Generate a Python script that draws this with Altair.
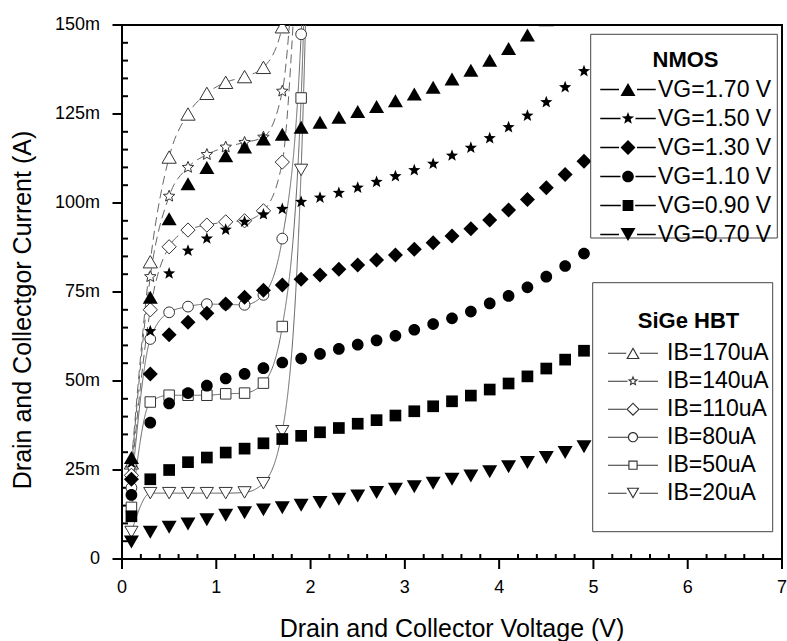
import math
import altair as alt
import pandas as pd

FONT = "Liberation Sans"

# ---------------- data ----------------
# NMOS drain sweep (V) and drain current (mA) for each gate voltage
vd = [0.1, 0.3, 0.5, 0.7, 0.9, 1.1, 1.3, 1.5, 1.7, 1.9, 2.1, 2.3, 2.5,
      2.7, 2.9, 3.1, 3.3, 3.5, 3.7, 3.9, 4.1, 4.3, 4.5, 4.7, 4.9]
nmos_names = ["VG=1.70 V", "VG=1.50 V", "VG=1.30 V", "VG=1.10 V", "VG=0.90 V", "VG=0.70 V"]
id_vg170 = [28.5, 73.5, 95.6, 105.4, 110.0, 113.3, 115.7, 118.0, 119.3, 121.3, 122.7, 124.1, 125.7,
            127.1, 128.7, 130.6, 132.5, 134.8, 137.3, 140.1, 143.4, 147.2, 151.5, 156.0, 161.0]
id_vg150 = [27.0, 64.0, 80.2, 86.6, 90.0, 92.5, 94.7, 96.8, 98.3, 100.3, 101.5, 102.8, 104.3,
            105.9, 107.5, 109.2, 111.0, 113.3, 115.5, 118.2, 121.3, 124.5, 128.3, 132.5, 137.0]
id_vg130 = [22.4, 52.0, 63.0, 66.5, 69.0, 71.6, 73.5, 75.5, 77.0, 78.6, 79.8, 81.4, 82.6,
            84.0, 85.4, 87.0, 88.8, 90.7, 92.8, 95.2, 98.0, 101.0, 104.3, 108.0, 111.7]
id_vg110 = [18.0, 38.3, 43.7, 46.6, 48.7, 50.7, 52.0, 53.6, 55.2, 56.3, 57.6, 59.0, 60.2,
            61.4, 62.7, 64.4, 66.0, 67.6, 69.5, 71.8, 73.9, 76.3, 79.3, 82.3, 85.8]
id_vg090 = [12.0, 22.4, 25.0, 27.2, 28.5, 29.9, 31.0, 32.5, 33.7, 34.6, 35.6, 36.8, 38.0,
            39.0, 40.3, 41.5, 42.9, 44.3, 45.9, 47.6, 49.3, 51.3, 53.5, 56.0, 58.5]
id_vg070 = [4.8, 7.5, 8.9, 9.8, 11.0, 12.3, 13.0, 13.8, 14.4, 15.1, 15.9, 16.8, 17.7,
            18.7, 19.6, 20.3, 21.3, 22.4, 23.3, 24.5, 25.9, 27.1, 28.5, 29.9, 31.5]

# SiGe HBT collector sweep (V) and collector current (mA) for each base current
vce = [0.1, 0.3, 0.5, 0.7, 0.9, 1.1, 1.3, 1.5, 1.7, 1.9, 2.1]
hbt_names = ["IB=170uA", "IB=140uA", "IB=110uA", "IB=80uA", "IB=50uA", "IB=20uA"]
ic_ib170 = [27.0, 83.5, 112.9, 125.0, 130.8, 133.9, 135.5, 138.1, 149.5, 210.0, 300.0]
ic_ib140 = [25.5, 79.3, 101.9, 110.0, 113.6, 115.7, 117.0, 118.5, 131.4, 200.0, 290.0]
ic_ib110 = [23.5, 70.0, 87.7, 92.4, 93.8, 94.7, 95.0, 97.8, 111.5, 190.0, 280.0]
ic_ib80 = [20.0, 61.8, 69.3, 70.9, 71.6, 71.5, 71.4, 74.2, 90.0, 147.4, 400.0]
ic_ib50 = [14.5, 44.1, 46.0, 46.0, 46.0, 46.4, 46.6, 49.4, 65.3, 129.5, 400.0]
ic_ib20 = [7.6, 18.5, 18.5, 18.5, 18.5, 18.5, 18.7, 21.3, 35.9, 109.3, 350.0]

# axis ticks and their labels
x_ticks = [0, 1, 2, 3, 4, 5, 6, 7]
x_labels = ["0", "1", "2", "3", "4", "5", "6", "7"]
x_minor = [0.2, 0.4, 0.6, 0.8, 1.2, 1.4, 1.6, 1.8, 2.2, 2.4, 2.6, 2.8, 3.2, 3.4, 3.6, 3.8,
           4.2, 4.4, 4.6, 4.8, 5.2, 5.4, 5.6, 5.8, 6.2, 6.4, 6.6, 6.8]
y_ticks = [0, 25, 50, 75, 100, 125, 150]
y_labels = ["0", "25m", "50m", "75m", "100m", "125m", "150m"]
y_minor = [5, 10, 15, 20, 30, 35, 40, 45, 55, 60, 65, 70, 80, 85, 90, 95,
           105, 110, 115, 120, 130, 135, 140, 145]
x_title = "Drain and Collector Voltage (V)"
y_title = "Drain and Collectgor Current (A)"

nmos = pd.concat([
    pd.DataFrame({"v": vd, "i": vals, "series": name})
    for name, vals in zip(nmos_names, [id_vg170, id_vg150, id_vg130, id_vg110, id_vg090, id_vg070])
])
hbt = pd.concat([
    pd.DataFrame({"v": vce, "i": vals, "series": name})
    for name, vals in zip(hbt_names, [ic_ib170, ic_ib140, ic_ib110, ic_ib80, ic_ib50, ic_ib20])
])

# tick tables (position plus tick kind)
x_major_df = pd.DataFrame({"v": x_ticks, "label": x_labels})
x_minor_df = pd.DataFrame({"v": x_minor, "kind": ["minor"] * len(x_minor)})
y_major_df = pd.DataFrame({"i": y_ticks, "label": y_labels})
y_minor_df = pd.DataFrame({"i": y_minor, "kind": ["minor"] * len(y_minor)})

# ---------------- symbol paths (unit box, scaled by sqrt(size)/2) ----------------
def f(v):
    return f"{v:.3f}"

def poly(pts):
    return "M" + "L".join(f"{f(px)},{f(py)}" for px, py in pts) + "Z"

def tri_up_pts(h):
    return [(0, -0.866 * h), (h, 0.866 * h), (-h, 0.866 * h)]

def tri_down_pts(h):
    return [(0, 0.866 * h), (h, -0.866 * h), (-h, -0.866 * h)]

def diamond_pts(h):
    return [(-h, 0), (0, -h), (h, 0), (0, h)]

def square_pts(h):
    return [(-h, -h), (h, -h), (h, h), (-h, h)]

def star_pts(r, inner=0.42):
    pts = []
    for k in range(10):
        ang = math.radians(-90 + 36 * k)
        rad = r if k % 2 == 0 else r * inner
        pts.append((rad * math.cos(ang), rad * math.sin(ang)))
    return pts

def circle(r, sweep=1):
    return (f"M{f(r)},0A{f(r)},{f(r)},0,1,{sweep},{f(-r)},0"
            f"A{f(r)},{f(r)},0,1,{sweep},{f(r)},0Z")

def ring(pts, cx, cy, s):
    inner = [(cx + s * (px - cx), cy + s * (py - cy)) for px, py in pts][::-1]
    return poly(pts) + poly(inner)

def leads(a, b, w):
    return (f"M{f(-b)},{f(-w)}L{f(-a)},{f(-w)}L{f(-a)},{f(w)}L{f(-b)},{f(w)}Z"
            f"M{f(a)},{f(-w)}L{f(b)},{f(-w)}L{f(b)},{f(w)}L{f(a)},{f(w)}Z")

def star_edge_dist(r, inner):
    ri = r * inner
    p2x, p2y = 0.5878 * ri, -0.809 * ri
    return 0.5878 * r * ri / math.hypot(p2x, p2y + r)

# plot symbols
nmos_paths = [poly(tri_up_pts(1.0)), poly(star_pts(0.86)), poly(diamond_pts(1.0)),
              circle(0.78), poly(square_pts(0.78)), poly(tri_down_pts(1.0))]
hbt_paths = [poly(tri_up_pts(0.95)), poly(star_pts(0.8, 0.45)), poly(diamond_pts(0.95)),
             circle(0.72), poly(square_pts(0.7)), poly(tri_down_pts(0.88))]

# legend symbols: marker plus short lead lines on both sides
T = 0.15  # outline thickness of open legend markers, unit-box coords
nmos_key_paths = [
    poly(tri_up_pts(1.0)) + leads(1.2, 3.7, 0.1),
    poly(star_pts(0.86)) + leads(1.0, 3.7, 0.1),
    poly(diamond_pts(1.0)) + leads(1.2, 3.7, 0.1),
    circle(0.78) + leads(1.0, 3.7, 0.1),
    poly(square_pts(0.72)) + leads(0.95, 3.7, 0.1),
    poly(tri_down_pts(1.0)) + leads(1.2, 3.7, 0.1),
]
hbt_key_paths = [
    ring(tri_up_pts(0.9), 0, 0.2887 * 0.9, 1 - T / (0.577 * 0.9)) + leads(0.9, 3.33, 0.07),
    ring(star_pts(0.75, 0.45), 0, 0, 1 - T / star_edge_dist(0.75, 0.45)) + leads(0.72, 3.33, 0.07),
    ring(diamond_pts(0.9), 0, 0, 1 - T / (0.9 / math.sqrt(2))) + leads(0.9, 3.33, 0.07),
    circle(0.68) + circle(0.68 - T, 0) + leads(0.68, 3.33, 0.07),
    ring(square_pts(0.62), 0, 0, 1 - T / 0.62) + leads(0.62, 3.33, 0.07),
    ring(tri_down_pts(0.85), 0, -0.2887 * 0.85, 1 - T / (0.577 * 0.85)) + leads(0.85, 3.33, 0.07),
]

W, H = 660, 534
XS = alt.Scale(domain=[0, 7], nice=False, zero=False)
YS = alt.Scale(domain=[0, 150], nice=False)

def xenc(field="v"):
    return alt.X(f"{field}:Q", scale=XS, axis=None)

def yenc(field="i"):
    return alt.Y(f"{field}:Q", scale=YS, axis=None)

# ---------------- axis ticks (major outward, minor inward) ----------------
tick_x_major = alt.Chart(x_major_df).mark_rule(color="black", strokeWidth=2).encode(
    x=xenc(), y=alt.value(H), y2=alt.value(H + 10))
tick_x_minor = alt.Chart(x_minor_df).mark_rule(color="black", strokeWidth=2).encode(
    x=xenc(), y=alt.value(H - 5), y2=alt.value(H))
tick_y_major = alt.Chart(y_major_df).mark_rule(color="black", strokeWidth=2).encode(
    y=yenc(), x=alt.value(-9.5), x2=alt.value(0))
tick_y_minor = alt.Chart(y_minor_df).mark_rule(color="black", strokeWidth=2).encode(
    y=yenc(), x=alt.value(0), x2=alt.value(6))

# ---------------- tick labels and axis titles ----------------
x_tick_text = alt.Chart(x_major_df).mark_text(
    font=FONT, fontSize=18, color="black", align="center", baseline="top"
).encode(x=xenc(), y=alt.value(H + 20), text="label:N")
y_tick_text = alt.Chart(y_major_df).mark_text(
    font=FONT, fontSize=18, color="black", align="right", baseline="middle"
).encode(y=yenc(), x=alt.value(-22), text="label:N")

one = pd.DataFrame({"k": [0]})
x_title_text = alt.Chart(one).mark_text(
    text=x_title, font=FONT, fontSize=25, color="black", align="center", baseline="alphabetic"
).encode(x=alt.value(W / 2), y=alt.value(H + 77.5))
y_title_text = alt.Chart(one).mark_text(
    text=y_title, font=FONT, fontSize=25, color="black", align="center", baseline="middle",
    angle=270
).encode(x=alt.value(-99), y=alt.value(285))

# ---------------- data layers ----------------
hbt_lines = alt.Chart(hbt).mark_line(
    clip=True, interpolate="monotone", color="#666666", strokeWidth=1
).encode(
    x=xenc(), y=yenc(),
    strokeDash=alt.StrokeDash("series:N", scale=alt.Scale(
        domain=hbt_names, range=[[9, 5], [9, 5], [9, 5], [1, 0], [1, 0], [1, 0]]), legend=None),
)

hbt_points = alt.Chart(hbt).mark_point(
    clip=True, size=225, fill="white", stroke="#333333", strokeWidth=1, opacity=1
).encode(
    x=xenc(), y=yenc(),
    shape=alt.Shape("series:N", scale=alt.Scale(domain=hbt_names, range=hbt_paths), legend=None),
)

nmos_points = alt.Chart(nmos).mark_point(
    clip=True, size=225, filled=True, color="black", opacity=1
).encode(
    x=xenc(), y=yenc(),
    shape=alt.Shape("series:N", scale=alt.Scale(domain=nmos_names, range=nmos_paths), legend=None),
)

# ---------------- legend frames and keys ----------------
box_nmos = alt.Chart(one).mark_rect(fill="white", stroke="#444444", strokeWidth=1).encode(
    x=alt.value(468.7), x2=alt.value(655.3), y=alt.value(9.3), y2=alt.value(213))
box_hbt = alt.Chart(one).mark_rect(fill="white", stroke="#444444", strokeWidth=1).encode(
    x=alt.value(470.7), x2=alt.value(650.7), y=alt.value(257.7), y2=alt.value(506.7))

legend_common = dict(
    orient="none", direction="vertical", padding=0, titleAnchor="middle",
    titleFontSize=22, titleFontWeight="bold", titleFont=FONT, titleColor="black",
    labelFontSize=23, labelFont=FONT, labelColor="black", symbolSize=225, symbolOpacity=1,
    symbolStrokeWidth=0,
)

nmos_key = alt.Chart(nmos).transform_filter("false").mark_point(
    size=225, filled=True, color="black", opacity=1
).encode(
    shape=alt.Shape("series:N", scale=alt.Scale(domain=nmos_names, range=nmos_key_paths),
                    legend=alt.Legend(title="NMOS", legendX=477.5, legendY=25,
                                      titlePadding=6, rowPadding=5, symbolOffset=17,
                                      labelOffset=18.5, symbolFillColor="black",
                                      **legend_common)),
)

hbt_key = alt.Chart(hbt).transform_filter("false").mark_point(
    size=225, filled=True, color="#333333", opacity=1
).encode(
    shape=alt.Shape("series:N", scale=alt.Scale(domain=hbt_names, range=hbt_key_paths),
                    legend=alt.Legend(title="SiGe HBT", legendX=485.5, legendY=286.2,
                                      titlePadding=8.5, rowPadding=4, symbolOffset=14,
                                      labelOffset=22.5, symbolFillColor="#333333",
                                      **legend_common)),
)

chart = alt.layer(
    tick_x_major, tick_x_minor, tick_y_major, tick_y_minor,
    x_tick_text, y_tick_text, x_title_text, y_title_text,
    hbt_lines, hbt_points, nmos_points, box_nmos, box_hbt, nmos_key, hbt_key
).resolve_scale(
    shape="independent", strokeDash="independent"
).properties(
    width=W, height=H,
    autosize=alt.AutoSizeParams(type="none"),
    padding={"left": 122, "top": 25, "right": 5, "bottom": 82},
).configure(
    font=FONT, background="white"
).configure_view(
    stroke="black", strokeWidth=2
)

chart.save("out.html", embed_options={"renderer": "svg", "actions": False})
